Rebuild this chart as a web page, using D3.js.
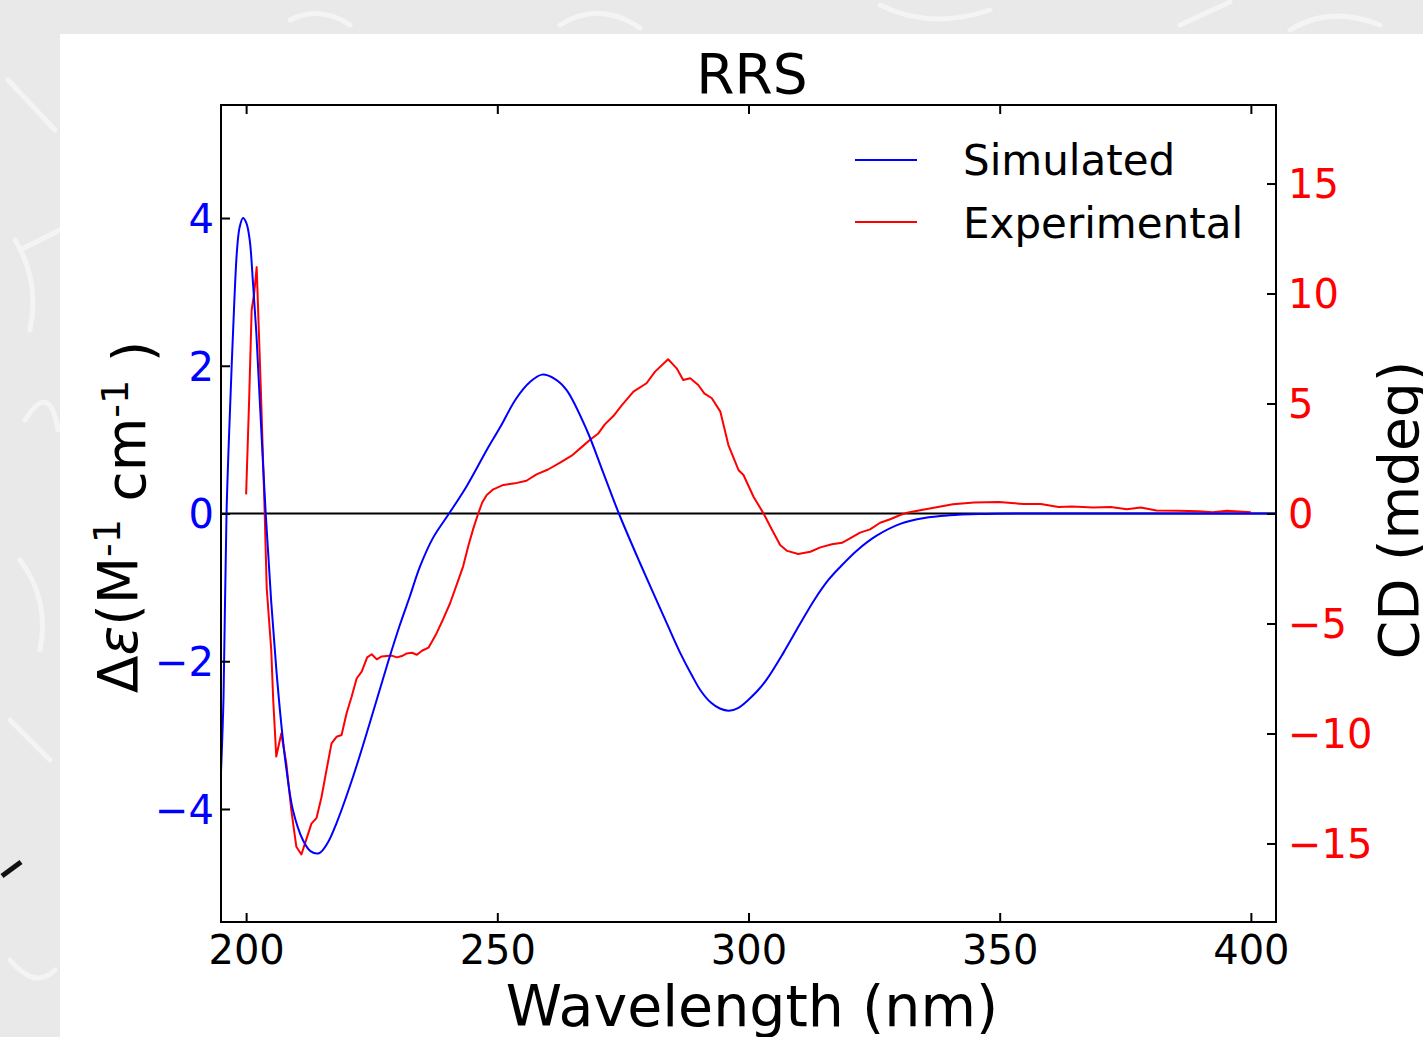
<!DOCTYPE html>
<html>
<head>
<meta charset="utf-8">
<script src="https://cdn.jsdelivr.net/npm/d3@7"></script>
<style>
  html, body { margin: 0; padding: 0; background: #e9e9e9; }
  svg { display: block; }
  text { font-family: "DejaVu Sans", sans-serif; }
</style>
</head>
<body>
<svg id="chart" width="1423" height="1037"></svg>
<script>
// ---- data ----
const title = "RRS";
const xTicks = [200, 250, 300, 350, 400];
const leftTicks = [-4, -2, 0, 2, 4];
const rightTicks = [-15, -10, -5, 0, 5, 10, 15];
const seriesNames = ["Simulated", "Experimental"];

const simWavelength = [195.0, 195.5, 196.1, 196.87, 197.39, 198.19, 198.72, 199.38, 200.06, 200.72, 201.37, 202.04, 202.71, 203.9, 205.0, 206.0, 207.0, 208.0, 209.3, 211.3, 212.8, 214.5, 216.3, 218.0, 221.3, 224.6, 228.3, 230.6, 232.6, 234.6, 237.2, 240.4, 243.9, 247.9, 250.5, 253.8, 256.5, 258.9, 261.5, 263.8, 267.8, 271.1, 274.2, 278.4, 283.7, 286.5, 288.8, 290.5, 292.5, 294.3, 296.1, 298.0, 300.0, 301.8, 303.6, 307.0, 310.3, 313.1, 315.9, 318.3, 321.6, 325.5, 330.2, 335.0, 340.0, 346.0, 355.0, 380.0, 405.0];
const simDelta = [-3.5, -2.5, 0.0, 1.54, 2.44, 3.57, 3.88, 4.0, 3.93, 3.7, 3.12, 2.44, 1.54, 0.0, -1.2, -2.1, -2.85, -3.45, -4.01, -4.42, -4.57, -4.6, -4.45, -4.19, -3.56, -2.84, -2.0, -1.51, -1.12, -0.72, -0.33, 0.0, 0.37, 0.86, 1.16, 1.56, 1.78, 1.88, 1.82, 1.67, 1.13, 0.55, 0.0, -0.67, -1.48, -1.9, -2.2, -2.4, -2.56, -2.64, -2.67, -2.63, -2.52, -2.4, -2.25, -1.88, -1.49, -1.17, -0.9, -0.72, -0.5, -0.3, -0.14, -0.06, -0.025, -0.008, 0.0, 0.0, 0.0];

const expWavelength = [200.0, 200.6, 201.1, 201.6, 202.1, 203.0, 203.7, 204.1, 205.0, 205.4, 206.0, 207.0, 208.0, 209.0, 210.0, 211.0, 212.0, 213.0, 214.0, 215.0, 216.0, 217.0, 218.0, 219.0, 220.0, 221.0, 222.0, 223.0, 224.1, 225.0, 226.0, 227.0, 228.0, 229.0, 230.0, 231.0, 232.0, 233.0, 234.0, 235.0, 236.3, 237.9, 239.3, 240.6, 242.2, 243.2, 244.2, 245.2, 246.2, 247.0, 247.9, 249.2, 251.2, 253.5, 255.8, 257.8, 260.1, 262.5, 264.8, 266.5, 268.4, 270.1, 271.4, 273.1, 274.8, 277.1, 279.7, 281.4, 284.0, 285.7, 287.0, 288.4, 290.0, 291.2, 292.7, 294.4, 296.0, 298.0, 299.0, 301.0, 303.0, 304.7, 306.3, 307.7, 309.9, 312.3, 314.3, 316.6, 318.6, 320.2, 322.2, 324.2, 326.2, 328.2, 330.2, 331.8, 335.8, 340.7, 344.9, 349.8, 354.7, 358.2, 361.7, 364.4, 368.6, 372.1, 375.3, 378.1, 381.2, 385.4, 389.6, 392.4, 395.2, 400.0];
const expCD = [0.87, 5.16, 9.25, 10.0, 11.2, 5.16, 0.0, -3.4, -6.2, -8.5, -11.05, -10.0, -11.35, -13.5, -15.15, -15.5, -14.8, -14.1, -13.85, -12.9, -11.66, -10.45, -10.15, -10.07, -9.08, -8.33, -7.5, -7.19, -6.54, -6.4, -6.63, -6.5, -6.48, -6.46, -6.54, -6.48, -6.36, -6.33, -6.42, -6.24, -6.1, -5.45, -4.76, -4.08, -3.05, -2.4, -1.5, -0.7, 0.0, 0.5, 0.84, 1.1, 1.3, 1.37, 1.49, 1.78, 2.0, 2.31, 2.63, 2.96, 3.34, 3.64, 4.05, 4.43, 4.93, 5.54, 5.92, 6.45, 7.01, 6.6, 6.07, 6.15, 5.84, 5.46, 5.24, 4.63, 3.11, 1.98, 1.75, 0.76, 0.0, -0.75, -1.43, -1.7, -1.84, -1.74, -1.54, -1.4, -1.33, -1.13, -0.87, -0.72, -0.42, -0.26, -0.07, 0.05, 0.22, 0.42, 0.5, 0.52, 0.43, 0.43, 0.3, 0.32, 0.27, 0.3, 0.19, 0.27, 0.14, 0.13, 0.1, 0.06, 0.13, 0.06];

// ---- layout ----
const W = 1423, H = 1037;
const plot = { left: 221, top: 105, right: 1276, bottom: 922 };
const blue = "#0000ff", red = "#ff0000";

const svg = d3.select("#chart");

// background (photo-like gray with faint strokes)
svg.append("rect").attr("width", W).attr("height", H).attr("fill", "#e9e9e9");
const deco = svg.append("g").attr("fill", "none").attr("stroke", "#f4f4f4").attr("stroke-width", 5).attr("stroke-linecap", "round");
["M20,250 L60,230", "M15,240 Q40,280 30,330", "M8,80 L55,130", "M20,560 Q50,600 40,650", "M290,20 Q320,5 350,25", "M560,25 Q600,0 640,28",
 "M880,5 Q930,30 990,10", "M1180,25 L1230,2", "M1290,30 Q1330,5 1380,25", "M10,960 Q35,990 55,970", "M25,420 Q50,380 58,430", "M10,720 L50,760"]
  .forEach(d => deco.append("path").attr("d", d));
svg.append("path").attr("d", "M2,876 L21,862").attr("stroke", "#111").attr("stroke-width", 5).attr("fill", "none");

svg.append("rect").attr("x", 60).attr("y", 34).attr("width", W - 60).attr("height", H - 34).attr("fill", "#ffffff");

// scales
const x = d3.scaleLinear().domain([195, 405]).range([plot.left, plot.right]);
const yL = d3.scaleLinear().domain([-5.53, 5.53]).range([plot.bottom, plot.top]);
const yR = d3.scaleLinear().domain([-18.57, 18.57]).range([plot.bottom, plot.top]);

// clip
svg.append("defs").append("clipPath").attr("id", "clip")
  .append("rect").attr("x", plot.left).attr("y", plot.top)
  .attr("width", plot.right - plot.left).attr("height", plot.bottom - plot.top);

// zero line
svg.append("line")
  .attr("x1", plot.left).attr("x2", plot.right)
  .attr("y1", yL(0)).attr("y2", yL(0))
  .attr("stroke", "#000").attr("stroke-width", 2);

// curves
const simData = simWavelength.map((w, i) => [w, simDelta[i]]);
const expData = expWavelength.map((w, i) => [w, expCD[i]]);

const g = svg.append("g").attr("clip-path", "url(#clip)");
g.append("path").datum(expData)
  .attr("d", d3.line().x(d => x(d[0])).y(d => yR(d[1])))
  .attr("fill", "none").attr("stroke", red).attr("stroke-width", 2).attr("stroke-linejoin", "round");
g.append("path").datum(simData)
  .attr("d", d3.line().curve(d3.curveCatmullRom.alpha(0.5)).x(d => x(d[0])).y(d => yL(d[1])))
  .attr("fill", "none").attr("stroke", blue).attr("stroke-width", 2).attr("stroke-linejoin", "round");

// axes
function styleAxis(sel, color) {
  sel.select(".domain").remove();
  sel.selectAll(".tick line").attr("stroke", "#000").attr("stroke-width", 2);
  sel.selectAll(".tick text").attr("fill", color).style("font-size", "40px").style("font-family", "DejaVu Sans, sans-serif");
}
const fmt = d3.format("d");

const axB = svg.append("g").attr("transform", `translate(0,${plot.bottom})`)
  .call(d3.axisBottom(x).tickValues(xTicks).tickFormat(fmt).tickSizeInner(-9).tickSizeOuter(0).tickPadding(14));
styleAxis(axB, "#000");

const axT = svg.append("g").attr("transform", `translate(0,${plot.top})`)
  .call(d3.axisTop(x).tickValues(xTicks).tickFormat("").tickSizeInner(-9).tickSizeOuter(0));
styleAxis(axT, "#000");

const axL = svg.append("g").attr("transform", `translate(${plot.left},0)`)
  .call(d3.axisLeft(yL).tickValues(leftTicks).tickFormat(fmt).tickSizeInner(-9).tickSizeOuter(0).tickPadding(7));
styleAxis(axL, blue);
axL.selectAll(".tick text").attr("dy", "0.36em");

const axR = svg.append("g").attr("transform", `translate(${plot.right},0)`)
  .call(d3.axisRight(yR).tickValues(rightTicks).tickFormat(fmt).tickSizeInner(-9).tickSizeOuter(0).tickPadding(12));
styleAxis(axR, red);
axR.selectAll(".tick text").attr("dy", "0.34em");

// frame
svg.append("rect")
  .attr("x", plot.left).attr("y", plot.top)
  .attr("width", plot.right - plot.left).attr("height", plot.bottom - plot.top)
  .attr("fill", "none").attr("stroke", "#000").attr("stroke-width", 2);

// title
svg.append("text").attr("x", 752).attr("y", 93).attr("text-anchor", "middle")
  .style("font-size", "55px").text(title);

// x label
svg.append("text").attr("x", 752).attr("y", 1026).attr("text-anchor", "middle")
  .style("font-size", "57px").text("Wavelength (nm)");

// left y label
const yl = svg.append("text").attr("transform", "translate(137,517) rotate(-90)")
  .attr("text-anchor", "middle").style("font-size", "55px");
yl.append("tspan").text("Δ");
yl.append("tspan").style("font-style", "italic").text("ε");
yl.append("tspan").text("(M");
yl.append("tspan").attr("dy", "-0.45em").style("font-size", "38px").text("-1");
yl.append("tspan").attr("dy", "0.45em").text(" cm");
yl.append("tspan").attr("dy", "-0.45em").style("font-size", "38px").text("-1");
yl.append("tspan").attr("dy", "0.45em").text(" )");

// right y label
svg.append("text").attr("transform", "translate(1418,510) rotate(-90)")
  .attr("text-anchor", "middle").style("font-size", "55px").text("CD (mdeg)");

// legend
const legend = svg.append("g");
[[blue, 160, 175], [red, 222, 238]].forEach((c, i) => {
  legend.append("line").attr("x1", 855).attr("x2", 917).attr("y1", c[1]).attr("y2", c[1])
    .attr("stroke", c[0]).attr("stroke-width", 2);
  legend.append("text").attr("x", 963).attr("y", c[2]).style("font-size", "42px").text(seriesNames[i]);
});
</script>
</body>
</html>
